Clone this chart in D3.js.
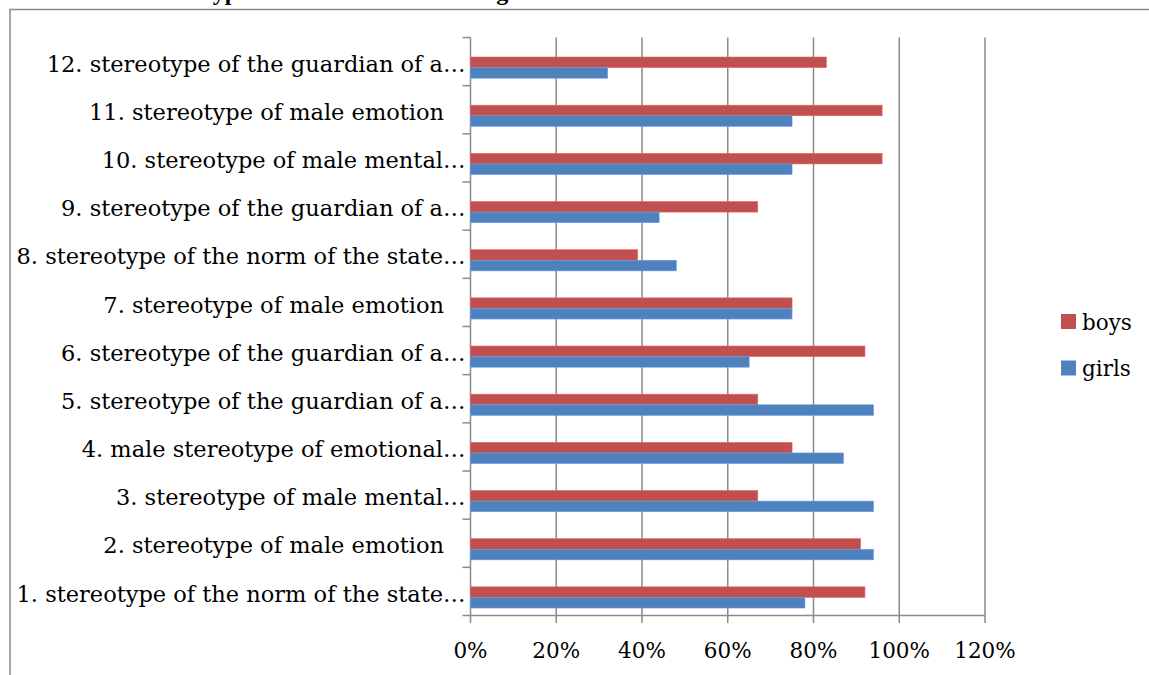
<!DOCTYPE html>
<html>
  <head>
    <meta charset="utf-8">
    <script src="https://d3js.org/d3.v7.min.js"></script>
    <style>
      body { margin: 0px; background: #fff; }
      svg { display: block; }
      .lbl, .tick-lbl, .legend-label {
        fill: #000;
        font-family: "DejaVu Serif", serif;
        font-size: 22.5px;
      }
      .tick-lbl, .legend-label { font-size: 21.5px; }
      .title {
        font-family: "Liberation Serif", serif;
        font-weight: bold;
        font-size: 24px;
      }
    </style>
  </head>
  <body>
    <div id="chart"></div>
    <script>
      // categories, bottom to top like the Excel chart
      const categories = [
        '1. stereotype of the norm of the state\u2026',
        '2. stereotype of male emotion\u00a0\u00a0\u00a0',
        '3. stereotype of male mental\u2026',
        '4. male stereotype of emotional\u2026',
        '5. stereotype of the guardian of a\u2026',
        '6. stereotype of the guardian of a\u2026',
        '7. stereotype of male emotion\u00a0\u00a0\u00a0',
        '8. stereotype of the norm of the state\u2026',
        '9. stereotype of the guardian of a\u2026',
        '10. stereotype of male mental\u2026',
        '11. stereotype of male emotion\u00a0\u00a0\u00a0',
        '12. stereotype of the guardian of a\u2026'
      ];
      const boys  = [92, 91, 67, 75, 67, 92, 75, 39, 67, 96, 96, 83];
      const girls = [78, 94, 94, 87, 94, 65, 75, 48, 44, 75, 75, 32];
      const seriesNames = ['boys', 'girls'];
      const colors = { boys: '#C0504D', girls: '#4F81BD' };
      const xTicks = [0, 20, 40, 60, 80, 100, 120];

      const width = 1149, height = 675;
      const plot = { left: 470.5, right: 985, top: 37.5, bottom: 615.5 };

      const svg = d3.select('#chart').append('svg')
        .attr('width', width)
        .attr('height', height);

      // heading from the page above, only its lower edge shows
      svg.append('text')
        .attr('class', 'title')
        .attr('x', 140)
        .attr('y', -0.5)
        .text('Stereotypes of the male ideal among');

      // outer chart border (runs off the right and bottom)
      svg.append('rect')
        .attr('x', 10).attr('y', 9.5)
        .attr('width', 1200).attr('height', 700)
        .attr('fill', '#fff')
        .attr('stroke', '#8a8a8a')
        .attr('stroke-width', 1.5);

      const xScale = d3.scaleLinear()
        .domain([0, 120])
        .range([plot.left, plot.right]);

      const yScale = d3.scaleBand()
        .domain(categories)
        .range([plot.bottom, plot.top]);

      // vertical gridlines with the little tick below the axis
      svg.append('g').selectAll('line')
        .data(xTicks)
        .enter().append('line')
        .attr('x1', d => xScale(d)).attr('x2', d => xScale(d))
        .attr('y1', plot.top).attr('y2', plot.bottom + 7.5)
        .attr('stroke', '#8a8a8a')
        .attr('stroke-width', 1.5);

      // bottom axis line
      svg.append('line')
        .attr('x1', plot.left - 8).attr('x2', plot.right)
        .attr('y1', plot.bottom).attr('y2', plot.bottom)
        .attr('stroke', '#8a8a8a')
        .attr('stroke-width', 1.5);

      // category boundary ticks on the left
      const bounds = categories.map(c => yScale(c));
      svg.append('g').selectAll('line')
        .data(bounds)
        .enter().append('line')
        .attr('x1', plot.left - 8).attr('x2', plot.left)
        .attr('y1', d => d).attr('y2', d => d)
        .attr('stroke', '#8a8a8a')
        .attr('stroke-width', 1.5);

      // bars sit a bit low inside each band in the original
      const bw = yScale.bandwidth();
      const inner = d3.scaleBand()
        .domain(seriesNames)
        .range([bw * 0.405, bw * 0.845]);

      const rows = categories.map((c, i) => ({ cat: c, boys: boys[i], girls: girls[i] }));

      const barG = svg.append('g');
      seriesNames.forEach(s => {
        barG.selectAll('rect.' + s)
          .data(rows)
          .enter().append('rect')
          .attr('class', s)
          .attr('x', xScale(0))
          .attr('y', d => yScale(d.cat) + inner(s))
          .attr('width', d => xScale(d[s]) - xScale(0))
          .attr('height', inner.bandwidth())
          .attr('fill', colors[s])
          .attr('stroke', d3.color(colors[s]).brighter(0.6))
          .attr('stroke-width', 0.6);
      });

      // category labels
      svg.append('g').selectAll('text')
        .data(categories)
        .enter().append('text')
        .attr('class', 'lbl')
        .attr('x', plot.left - 5)
        .attr('y', d => yScale(d) + bw / 2 + 2)
        .attr('dy', '0.36em')
        .attr('text-anchor', 'end')
        .text(d => d);

      // x tick labels
      svg.append('g').selectAll('text')
        .data(xTicks)
        .enter().append('text')
        .attr('class', 'tick-lbl')
        .attr('x', d => xScale(d))
        .attr('y', 658)
        .attr('text-anchor', 'middle')
        .text(d => d + '%');

      // legend
      const legend = svg.append('g')
        .attr('transform', 'translate(1061, 314)');
      const li = legend.selectAll('g')
        .data(seriesNames)
        .enter().append('g')
        .attr('transform', (d, i) => `translate(0, ${i * 46.5})`);
      li.append('rect')
        .attr('width', 15).attr('height', 15)
        .attr('fill', d => colors[d]);
      li.append('text')
        .attr('class', 'legend-label')
        .attr('x', 21)
        .attr('y', 8)
        .attr('dy', '0.36em')
        .text(d => d);
    </script>
  </body>
</html>
